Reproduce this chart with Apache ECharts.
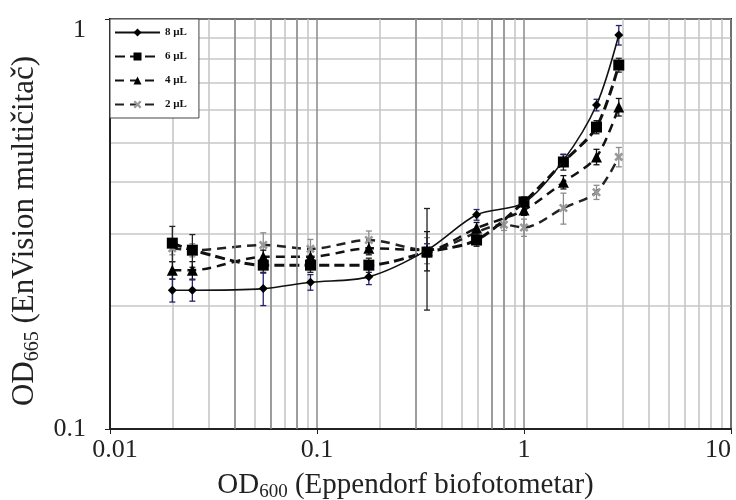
<!DOCTYPE html>
<html>
<head>
<meta charset="utf-8">
<script src="https://cdn.jsdelivr.net/npm/echarts@6/dist/echarts.min.js"></script>
<style>html,body{margin:0;padding:0;background:#fff}#c{width:736px;height:500px}</style>
</head>
<body>
<div id="c"></div>
<script>
// OD600 values (x) and OD665 values (y), with error bar half-widths
var x8 = [0.02, 0.025, 0.055, 0.093, 0.178, 0.34, 0.59, 1.0, 1.55, 2.24, 2.87];
var y8 = [0.218, 0.218, 0.220, 0.228, 0.235, 0.273, 0.333, 0.356, 0.452, 0.617, 0.914];
var e8 = [0.014, 0.013, 0.02, 0.01, 0.01, 0.01, 0.01, 0.008, 0.015, 0.02, 0.05];

var x6 = [0.02, 0.025, 0.055, 0.093, 0.178, 0.34, 0.59, 1.0, 1.55, 2.24, 2.87];
var y6 = [0.284, 0.273, 0.251, 0.251, 0.251, 0.270, 0.289, 0.358, 0.448, 0.545, 0.772];
var e6 = [0.028, 0.025, 0.01, 0.01, 0.01, 0.075, 0.01, 0.01, 0.02, 0.02, 0.03];

var x4 = [0.02, 0.025, 0.055, 0.093, 0.178, 0.34, 0.59, 1.0, 1.55, 2.24, 2.87];
var y4 = [0.244, 0.244, 0.263, 0.263, 0.276, 0.273, 0.309, 0.342, 0.400, 0.461, 0.610];
var e4 = [0.012, 0.012, 0.01, 0.01, 0.01, 0.03, 0.01, 0.01, 0.015, 0.02, 0.03];

var x2 = [0.02, 0.025, 0.055, 0.093, 0.178, 0.34, 0.8, 1.0, 1.55, 2.24, 2.87];
var y2 = [0.276, 0.273, 0.281, 0.275, 0.289, 0.273, 0.315, 0.31, 0.346, 0.378, 0.461];
var e2 = [0.01, 0.01, 0.02, 0.015, 0.015, 0.02, 0.01, 0.015, 0.03, 0.015, 0.025];

var seriesNames = ['8 µL', '6 µL', '4 µL', '2 µL'];
var darkGridX = [0.04, 0.06, 0.08, 0.3, 0.7, 0.8];

var SERIF = '"Liberation Serif", "DejaVu Serif", serif';
var XMARK = 'path://M2,0L5,3L8,0L10,2L7,5L10,8L8,10L5,7L2,10L0,8L3,5L0,2Z';

function pts(xs, ys) { return xs.map(function (x, i) { return [x, ys[i]]; }); }
function errs(xs, ys, es) { return xs.map(function (x, i) { return [x, ys[i] - es[i], ys[i] + es[i]]; }); }

function errSeries(name, xs, ys, es, color) {
  return {
    type: 'custom', name: name + ' err', silent: true, z: 3,
    data: errs(xs, ys, es),
    encode: { x: 0, y: [1, 2] },
    renderItem: function (params, api) {
      var lo = api.coord([api.value(0), api.value(1)]);
      var hi = api.coord([api.value(0), api.value(2)]);
      var w = 3;
      var st = { stroke: color, lineWidth: 1.3 };
      return { type: 'group', children: [
        { type: 'line', shape: { x1: lo[0], y1: lo[1], x2: hi[0], y2: hi[1] }, style: st },
        { type: 'line', shape: { x1: lo[0] - w, y1: lo[1], x2: lo[0] + w, y2: lo[1] }, style: st },
        { type: 'line', shape: { x1: hi[0] - w, y1: hi[1], x2: hi[0] + w, y2: hi[1] }, style: st }
      ] };
    }
  };
}

function richTitle(size) {
  return {
    n: { fontFamily: SERIF, fontSize: size, color: '#222' },
    s: { fontFamily: SERIF, fontSize: Math.round(size * 0.66), color: '#222', padding: [Math.round(size * 0.5), 0, 0, 0] }
  };
}
var tickRich = {
  t: { fontFamily: SERIF, fontSize: 26, color: '#222' },
  top: { fontFamily: SERIF, fontSize: 26, color: '#222', padding: [22, 0, 0, 0] },
  first: { fontFamily: SERIF, fontSize: 26, color: '#222', padding: [0, 0, 0, 10] }
};

var chart = echarts.init(document.getElementById('c'));
chart.setOption({
  animation: false,
  backgroundColor: '#fff',
  grid: { left: 110, right: 5, top: 19, bottom: 71, outerBoundsMode: 'none', show: true, borderColor: '#222', borderWidth: 2, backgroundColor: 'transparent' },
  legend: {
    data: seriesNames, orient: 'vertical', left: 110, top: 19,
    itemWidth: 45, itemHeight: 10, itemGap: 13,
    padding: [8, 12, 8, 4],
    backgroundColor: '#fff', borderColor: '#444', borderWidth: 1,
    textStyle: { fontFamily: SERIF, fontWeight: 'bold', fontSize: 11, color: '#111' }
  },
  xAxis: {
    type: 'log', logBase: 10, min: 0.01, max: 10,
    name: '{n|OD}{s|600}{n| (Eppendorf biofotometar)}',
    nameLocation: 'middle', nameGap: 39,
    nameTextStyle: { rich: richTitle(29), padding: [0, 30, 0, 0] },
    axisLine: { show: true, lineStyle: { color: '#222', width: 2 } },
    axisTick: { show: true, length: 5, lineStyle: { color: '#222' } },
    axisLabel: { fontFamily: SERIF, fontSize: 26, color: '#222', margin: 8, alignMaxLabel: 'right',
      rich: tickRich,
      formatter: function (v) { return (v === 0.01 ? '{first|' : '{t|') + String(v) + '}'; } },
    splitLine: { show: true, lineStyle: { color: '#8a8a8a', width: 1.5 } },
    minorTick: { show: false, splitNumber: 9 },
    minorSplitLine: { show: true, lineStyle: { color: '#c4c4c4', width: 1.5 } }
  },
  yAxis: {
    type: 'log', logBase: 10, min: 0.1, max: 1,
    name: '{n|OD}{s|665}{n| (EnVision multičitač)}',
    nameLocation: 'middle', nameGap: 64, nameRotate: 90,
    nameTextStyle: { rich: richTitle(31), padding: [0, 14, 0, 0] },
    axisLine: { show: true, lineStyle: { color: '#222', width: 2 } },
    axisTick: { show: true, length: 5, lineStyle: { color: '#222' } },
    axisLabel: { fontFamily: SERIF, fontSize: 26, color: '#222', margin: 24,
      rich: tickRich,
      formatter: function (v) { return (v === 1 ? '{top|' : '{t|') + String(v) + '}'; } },
    splitLine: { show: true, lineStyle: { color: '#8a8a8a', width: 1.5 } },
    minorTick: { show: false, splitNumber: 9 },
    minorSplitLine: { show: true, lineStyle: { color: '#c8c8c8', width: 1.5 } }
  },
  series: [
    {
      type: 'line', name: 'grid-dark', data: [], silent: true, z: 1,
      markLine: { silent: true, symbol: 'none', label: { show: false },
        lineStyle: { color: '#8a8a8a', width: 1.5, type: 'solid' },
        data: darkGridX.map(function (v) { return { xAxis: v }; }) }
    },
    errSeries('2', x2, y2, e2, '#8c8c8c'),
    errSeries('4', x4, y4, e4, '#111'),
    errSeries('6', x6, y6, e6, '#222'),
    errSeries('8', x8, y8, e8, '#23236e'),
    {
      type: 'line', name: '2 µL', data: pts(x2, y2), smooth: 0.3, z: 4,
      symbol: XMARK, symbolSize: 9,
      itemStyle: { color: '#999' },
      lineStyle: { color: '#222', width: 2.5, type: [9, 6] }
    },
    {
      type: 'line', name: '4 µL', data: pts(x4, y4), smooth: 0.3, z: 4,
      symbol: 'triangle', symbolSize: 11,
      itemStyle: { color: '#000' },
      lineStyle: { color: '#111', width: 2.5, type: [9, 6] }
    },
    {
      type: 'line', name: '6 µL', data: pts(x6, y6), smooth: 0.3, z: 4,
      symbol: 'rect', symbolSize: 11,
      itemStyle: { color: '#000' },
      lineStyle: { color: '#111', width: 3, type: [10, 5] }
    },
    {
      type: 'line', name: '8 µL', data: pts(x8, y8), smooth: 0.3, z: 5,
      symbol: 'diamond', symbolSize: 9,
      itemStyle: { color: '#000' },
      lineStyle: { color: '#111', width: 1.6, type: 'solid' }
    }
  ]
});
</script>
</body>
</html>
